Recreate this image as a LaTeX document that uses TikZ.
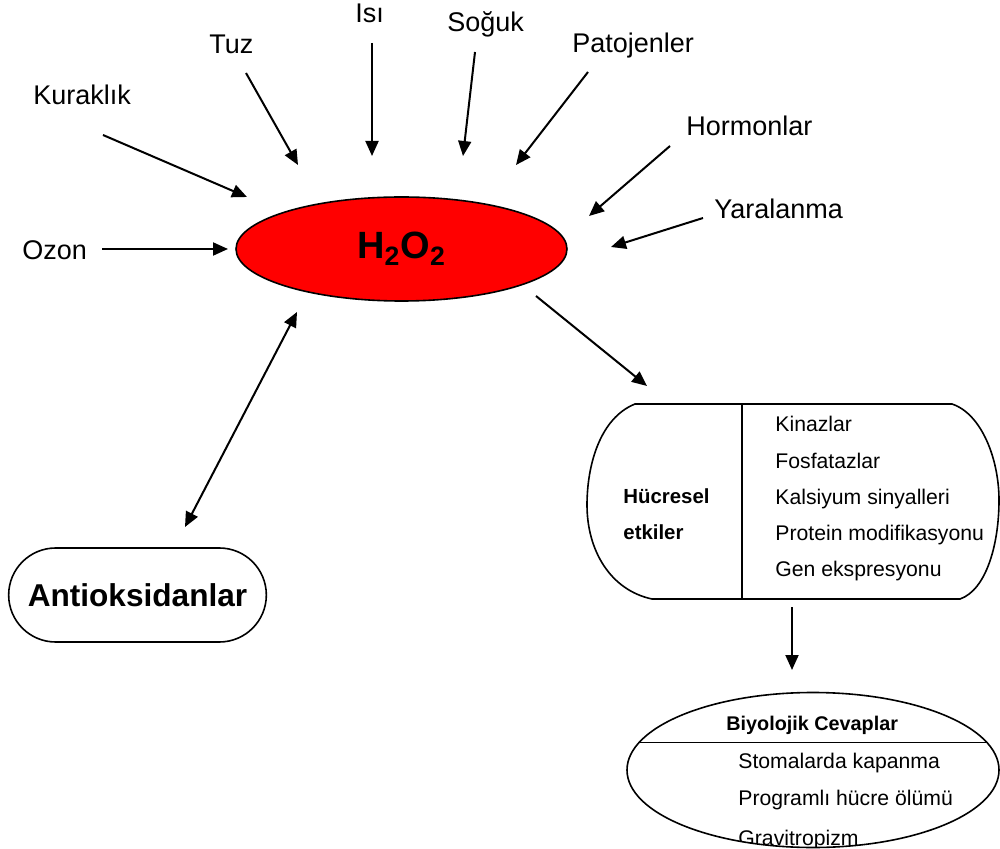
\documentclass[tikz,border=0pt]{standalone}
\usepackage{fontspec}
\setmainfont{Liberation Sans}
\usetikzlibrary{arrows.meta,shapes.geometric,shapes.misc}

\begin{document}
\begin{tikzpicture}[
  x=0.5pt, y=-0.5pt,
  arr/.style={-{Triangle[length=7.5pt,width=6.5pt]}, line width=1pt},
  dbl/.style={{Triangle[length=7.5pt,width=6.5pt]}-{Triangle[length=7.5pt,width=6.5pt]}, line width=1pt},
  stres/.style={anchor=base west, inner sep=0pt, font=\fontsize{13.5}{16}\selectfont},
  item/.style={anchor=base west, inner sep=0pt, font=\fontsize{10.6}{12}\selectfont},
  head/.style={anchor=base west, inner sep=0pt, font=\bfseries\fontsize{10.2}{12}\selectfont}
]
  \useasboundingbox (0,0) rectangle (1000,849);

  \node[ellipse, draw, line width=0.8pt, fill=red, minimum width=165.5pt,
    minimum height=52pt, font=\bfseries\fontsize{19}{23}\selectfont]
    (h2o2) at (401.5,249) {H\textsubscript{2}O\textsubscript{2}};

  \foreach \nm/\txt/\lx/\ly/\sx/\sy/\ex/\ey in {
    kur/Kuraklık/33/105/103/135/247/197,
    tuz/Tuz/209/54/246/73/298/165,
    isi/Isı/355/23/372/43/372/156,
    sog/Soğuk/447/32/475/52/463/156,
    pat/Patojenler/572/53/588/72/516/165,
    hor/Hormonlar/686/136/670/146/589/216,
    yar/Yaralanma/714/219/703/218/611/247,
    ozo/Ozon/22/260/102/249/228/249} {
    \node[stres] (\nm) at (\lx,\ly) {\txt};
    \coordinate (\nm-s) at (\sx,\sy);
    \coordinate (\nm-e) at (\ex,\ey);
    \draw[arr] (\nm-s) -- (\nm-e);
  }

  \node[rounded rectangle, draw, line width=0.8pt, minimum width=135.5pt,
    minimum height=47pt, font=\bfseries\fontsize{15.8}{18}\selectfont]
    (anti) at (137.5,595) {Antioksidanlar};
  \coordinate (anti-t) at (185,527);
  \coordinate (h2o2-b) at (297,312);
  \draw[dbl] (anti-t) -- (h2o2-b);

  \node[minimum width=206pt, minimum height=97.5pt] (cell) at (793,501.5) {};
  \draw[line width=0.8pt] (635,404) -- (952,404)
    .. controls (982,414) and (999,460) .. (999,500)
    .. controls (999,545) and (986,590) .. (960,599) -- (652,599)
    .. controls (610,590) and (587,550) .. (587,505)
    .. controls (587,465) and (600,418) .. (635,404) -- cycle;
  \coordinate (div) at (742,0);
  \draw[line width=0.8pt] (cell.north -| div) -- (cell.south -| div);
  \node[head] (hc1) at (623,503) {Hücresel};
  \node[head] (hc2) at (623,539) {etkiler};
  \foreach \nm/\txt/\y in {k1/Kinazlar/432, k2/Fosfatazlar/468,
    k3/Kalsiyum sinyalleri/504, k4/Protein modifikasyonu/540,
    k5/Gen ekspresyonu/576} {
    \node[item] (\nm) at (775,\y) {\txt};
  }
  \coordinate (h2o2-r) at (536,296);
  \coordinate (cell-t) at (647,386);
  \draw[arr] (h2o2-r) -- (cell-t);

  \node[ellipse, draw, line width=0.8pt, minimum width=186pt,
    minimum height=77.5pt] (bio) at (813,770) {};
  \draw[line width=0.8pt] (bio.171) -- (bio.9);
  \node[head, font=\bfseries\fontsize{9.9}{12}\selectfont] (bh) at (726,730) {Biyolojik Cevaplar};
  \begin{scope}
    \clip (bio.center) ellipse [x radius=93pt, y radius=38.75pt];
    \foreach \nm/\txt/\y in {b1/Stomalarda kapanma/768,
      b2/Programlı hücre ölümü/805, b3/Gravitropizm/845} {
      \node[item] (\nm) at (738,\y) {\txt};
    }
  \end{scope}
  \coordinate (cell-b) at (792,607);
  \coordinate (bio-t) at (792,670);
  \draw[arr] (cell-b) -- (bio-t);
\end{tikzpicture}
\end{document}
